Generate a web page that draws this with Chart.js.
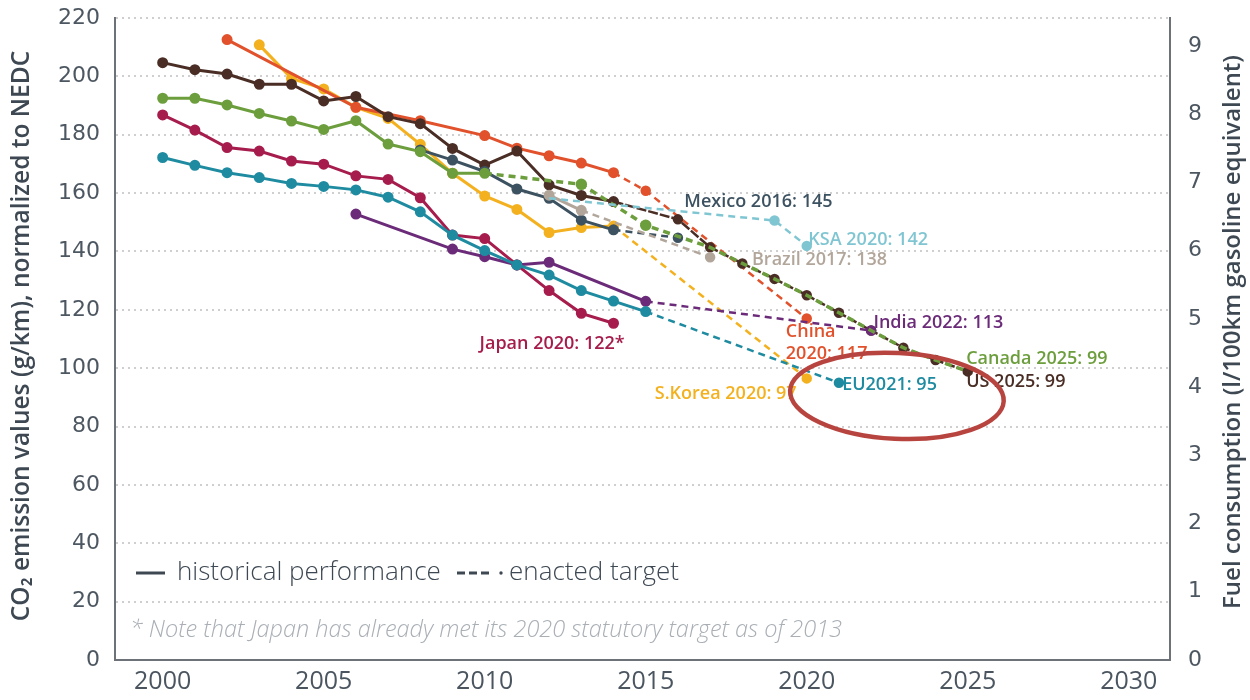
<!DOCTYPE html>
<html>
<head>
<meta charset="utf-8">
<script src="https://cdn.jsdelivr.net/npm/chart.js@4.4.1/dist/chart.umd.min.js"></script>
<style>
  html, body { margin: 0; padding: 0; background: #fff; }
  #wrap { width: 1250px; height: 700px; }
</style>
</head>
<body>
<div id="wrap"><canvas id="co2Chart" width="1250" height="700"></canvas></div>
<script>
// --- DATA ---
const xTicks = [2000, 2005, 2010, 2015, 2020, 2025, 2030];
const fuelTicks = [0, 1, 2, 3, 4, 5, 6, 7, 8, 9];

const usYears = [2000, 2001, 2002, 2003, 2004, 2005, 2006, 2007, 2008, 2009, 2010, 2011, 2012, 2013, 2014];
const usValues = [204.7, 202.3, 200.8, 197.3, 197.3, 191.6, 193.1, 186.2, 183.8, 175.3, 169.6, 174.4, 162.8, 159.2, 157.1];
const usTargetYears = [2014, 2016, 2017, 2018, 2019, 2020, 2021, 2022, 2023, 2024, 2025];
const usTargetValues = [157.1, 151, 141.4, 135.9, 130.6, 125, 119, 112.9, 107, 102.8, 98.9];

const canadaYears = [2000, 2001, 2002, 2003, 2004, 2005, 2006, 2007, 2008, 2009, 2010];
const canadaValues = [192.5, 192.5, 190.2, 187.3, 184.7, 181.8, 184.8, 176.8, 174.2, 166.8, 166.8];
const canadaTargetYears = [2010, 2013, 2015, 2017, 2018, 2019, 2020, 2021, 2022, 2023, 2024, 2025];
const canadaTargetValues = [166.8, 163, 149, 141.4, 135.9, 130.6, 125, 119, 112.9, 107, 102.8, 98.9];

const chinaYears = [2002, 2006, 2008, 2010, 2011, 2012, 2013, 2014];
const chinaValues = [212.6, 189.4, 184.8, 179.7, 175.4, 172.8, 170.3, 167];
const chinaTargetYears = [2014, 2015, 2020];
const chinaTargetValues = [167, 160.8, 117];

const koreaYears = [2003, 2004, 2005, 2006, 2007, 2008, 2009, 2010, 2011, 2012, 2013, 2014];
const koreaValues = [210.8, 199.3, 195.7, 189.4, 185.6, 176.7, 166.8, 159, 154.4, 146.5, 148.2, 148.7];
const koreaTargetYears = [2014, 2020];
const koreaTargetValues = [148.7, 96.5];

const japanYears = [2000, 2001, 2002, 2003, 2004, 2005, 2006, 2007, 2008, 2009, 2010, 2011, 2012, 2013, 2014];
const japanValues = [186.8, 181.6, 175.6, 174.4, 171, 169.9, 165.9, 164.7, 158.4, 145.6, 144.4, 135.4, 126.6, 118.8, 115.4];

const euYears = [2000, 2001, 2002, 2003, 2004, 2005, 2006, 2007, 2008, 2009, 2010, 2011, 2012, 2013, 2014, 2015];
const euValues = [172.2, 169.5, 167, 165.3, 163.3, 162.3, 161.1, 158.6, 153.6, 145.6, 140.3, 135.4, 131.9, 126.6, 123, 119.4];
const euTargetYears = [2015, 2021];
const euTargetValues = [119.4, 95];

const indiaYears = [2006, 2009, 2010, 2011, 2012, 2015];
const indiaValues = [152.8, 140.8, 138.2, 135.4, 136.3, 122.9];
const indiaTargetYears = [2015, 2022];
const indiaTargetValues = [122.9, 112.9];

const mexicoYears = [2008, 2009, 2010, 2011, 2012, 2013, 2014];
const mexicoValues = [174.8, 171.3, 167.4, 161.4, 158.2, 150.7, 147.4];
const mexicoTargetYears = [2014, 2016];
const mexicoTargetValues = [147.4, 144.7];

const brazilYears = [2012, 2013];
const brazilValues = [159.3, 154.1];
const brazilTargetYears = [2013, 2017];
const brazilTargetValues = [154.1, 138];

const ksaTargetYears = [2012, 2019, 2020];
const ksaTargetValues = [158.2, 150.6, 141.9];

// --- COLORS ---
const C = {
    us: '#4a2e26', canada: '#6d9e3d', china: '#e1522c', korea: '#f4b11f',
    japan: '#a61c4c', eu: '#1f8ba1', india: '#6b2b79', mexico: '#3d5261',
    brazil: '#b2a69b', ksa: '#80c6d2', text: '#3d4853'
};

// --- ANNOTATIONS (left edge year, middle value) ---
const notes = [
    { text: 'Mexico 2016: 145', x: 2016.2, y: 157.0, color: C.mexico },
    { text: 'KSA 2020: 142', x: 2020.05, y: 143.9, color: C.ksa },
    { text: 'Brazil 2017: 138', x: 2018.3, y: 137.1, color: C.brazil },
    { text: 'India 2022: 113', x: 2022.07, y: 115.4, color: C.india },
    { text: 'China', x: 2019.35, y: 112.4, color: C.china },
    { text: '2020: 117', x: 2019.35, y: 104.9, color: C.china },
    { text: 'Japan 2020: 122*', x: 2009.84, y: 108.3, color: C.japan },
    { text: 'Canada 2025: 99', x: 2024.95, y: 103.2, color: C.canada },
    { text: 'US 2025: 99', x: 2024.95, y: 95.3, color: C.us },
    { text: 'EU2021: 95', x: 2021.1, y: 94.2, color: C.eu },
    { text: 'S.Korea 2020: 97', x: 2015.28, y: 91.2, color: C.korea }
];

function pts(xs, ys) { return xs.map((x, i) => ({ x: x, y: ys[i] })); }

function series(label, xs, ys, color, dashed, extra) {
    return Object.assign({
        label: label,
        data: pts(xs, ys),
        borderColor: color,
        backgroundColor: color,
        pointBackgroundColor: color,
        pointBorderColor: color,
        borderWidth: dashed ? 2.5 : 3,
        borderDash: dashed ? [7, 5] : [],
        pointRadius: dashed ? ctx => (ctx.dataIndex === 0 ? 0 : 4) : 4,
        pointHoverRadius: 4,
        tension: 0,
        fill: false
    }, extra || {});
}

function noPad(s) { s.paddingTop = 0; s.paddingBottom = 0; s.paddingLeft = 0; s.paddingRight = 0; }

// --- PLUGIN: titles, legend, labels, highlight ellipse ---
const decor = {
    id: 'decor',
    afterDatasetsDraw(chart) {
        const { ctx, scales } = chart;
        const xs = scales.x, ys = scales.y;
        ctx.save();

        // series labels
        ctx.textBaseline = 'middle';
        ctx.textAlign = 'left';
        ctx.font = '600 18px "Open Sans"';
        notes.forEach(n => {
            ctx.fillStyle = n.color;
            ctx.fillText(n.text, xs.getPixelForValue(n.x), ys.getPixelForValue(n.y));
        });

        // legend
        const ly = 573;
        ctx.strokeStyle = C.text;
        ctx.lineWidth = 3;
        ctx.beginPath(); ctx.moveTo(136, ly); ctx.lineTo(165, ly); ctx.stroke();
        ctx.setLineDash([8, 4]);
        ctx.beginPath(); ctx.moveTo(457, ly); ctx.lineTo(493, ly); ctx.stroke();
        ctx.setLineDash([]);
        ctx.beginPath(); ctx.arc(501, ly, 1.7, 0, Math.PI * 2); ctx.fillStyle = C.text; ctx.fill();
        ctx.font = '300 26px "Open Sans"';
        ctx.fillStyle = C.text;
        ctx.fillText('historical performance', 177, ly);
        ctx.fillText('enacted target', 509, ly);

        // footnote
        ctx.font = 'italic 300 23.5px "Open Sans"';
        ctx.fillStyle = '#a9afb5';
        ctx.fillText('* Note that Japan has already met its 2020 statutory target as of 2013', 130, 630);

        // highlight ellipse
        const cx = xs.getPixelForValue(2022.8), cy = ys.getPixelForValue(90.5);
        const rx = xs.getPixelForValue(2022.8 + 3.32) - cx;
        const ry = ys.getPixelForValue(90.5) - ys.getPixelForValue(90.5 + 14.7);
        ctx.strokeStyle = '#b8443f';
        ctx.lineWidth = 4.5;
        ctx.beginPath(); ctx.ellipse(cx, cy, rx, ry, 0.05, 0, Math.PI * 2); ctx.stroke();

        // axis titles
        ctx.fillStyle = C.text;
        ctx.textAlign = 'center';
        ctx.font = '600 24.5px "Open Sans"';
        ctx.translate(22, 336);
        ctx.rotate(-Math.PI / 2);
        ctx.fillText('CO\u2082 emission values (g/km), normalized to NEDC', 0, 0);
        ctx.restore();

        ctx.save();
        ctx.fillStyle = C.text;
        ctx.textAlign = 'center';
        ctx.textBaseline = 'middle';
        ctx.font = '600 24px "Open Sans"';
        ctx.translate(1233, 332);
        ctx.rotate(-Math.PI / 2);
        ctx.fillText('Fuel consumption (l/100km gasoline equivalent)', 0, 0);
        ctx.restore();
    }
};

const datasets = [
    series('KSA target', ksaTargetYears, ksaTargetValues, C.ksa, true),
    series('Brazil target', brazilTargetYears, brazilTargetValues, C.brazil, true),
    series('Brazil', brazilYears, brazilValues, C.brazil, false),
    series('Canada target', canadaTargetYears, canadaTargetValues, C.canada, true, {
        borderWidth: 3.5,
        pointRadius: ctx => (ctx.dataIndex === 0 || canadaTargetYears[ctx.dataIndex] >= 2017 ? 0 : 4)
    }),
    series('Canada', canadaYears, canadaValues, C.canada, false),
    series('Mexico target', mexicoTargetYears, mexicoTargetValues, C.mexico, true),
    series('Mexico', mexicoYears, mexicoValues, C.mexico, false),
    series('EU target', euTargetYears, euTargetValues, C.eu, true),
    series('EU', euYears, euValues, C.eu, false),
    series('Japan', japanYears, japanValues, C.japan, false),
    series('India target', indiaTargetYears, indiaTargetValues, C.india, true),
    series('India', indiaYears, indiaValues, C.india, false),
    series('US target', usTargetYears, usTargetValues, C.us, true, { borderWidth: 2.5, borderDash: [10, 2] }),
    series('US', usYears, usValues, C.us, false),
    series('China target', chinaTargetYears, chinaTargetValues, C.china, true),
    series('China', chinaYears, chinaValues, C.china, false),
    series('Korea target', koreaTargetYears, koreaTargetValues, C.korea, true),
    series('Korea', koreaYears, koreaValues, C.korea, false)
];

const tickFont = { family: '"DejaVu Sans"', size: 22 };

new Chart(document.getElementById('co2Chart'), {
    type: 'line',
    data: { datasets: datasets },
    plugins: [decor],
    options: {
        responsive: false,
        animation: false,
        events: [],
        layout: { padding: { top: 18, right: 0, bottom: 0, left: 0 } },
        plugins: { legend: { display: false }, tooltip: { enabled: false } },
        scales: {
            x: {
                type: 'linear',
                min: 1998.52,
                max: 2031.28,
                afterBuildTicks: s => { s.ticks = xTicks.map(v => ({ value: v })); },
                afterFit: s => { s.height = 40; noPad(s); },
                grid: { display: false, drawTicks: false },
                border: { display: true, color: '#6c7278', width: 2 },
                ticks: { padding: 7, color: '#4a5560', font: { family: '"Open Sans"', size: 25 }, maxRotation: 0, callback: v => String(v) }
            },
            y: {
                position: 'left',
                min: 0,
                max: 220,
                ticks: { stepSize: 20, padding: 15, color: '#4d5761', font: tickFont },
                afterFit: s => { s.width = 115; noPad(s); },
                grid: {
                    drawTicks: false,
                    lineWidth: 2,
                    color: c => (c.tick && c.tick.value === 0 ? 'rgba(0,0,0,0)' : '#cfcfcf')
                },
                border: { display: true, color: '#6c7278', width: 2, dash: [2, 4] }
            },
            y2: {
                position: 'right',
                min: 0,
                max: 9.41,
                afterBuildTicks: s => { s.ticks = fuelTicks.map(v => ({ value: v })); },
                afterFit: s => { s.width = 80; noPad(s); },
                grid: { display: false, drawTicks: false },
                border: { display: true, color: '#6c7278', width: 2 },
                ticks: { padding: 18, color: '#4d5761', font: tickFont }
            }
        }
    }
});
</script>
</body>
</html>
